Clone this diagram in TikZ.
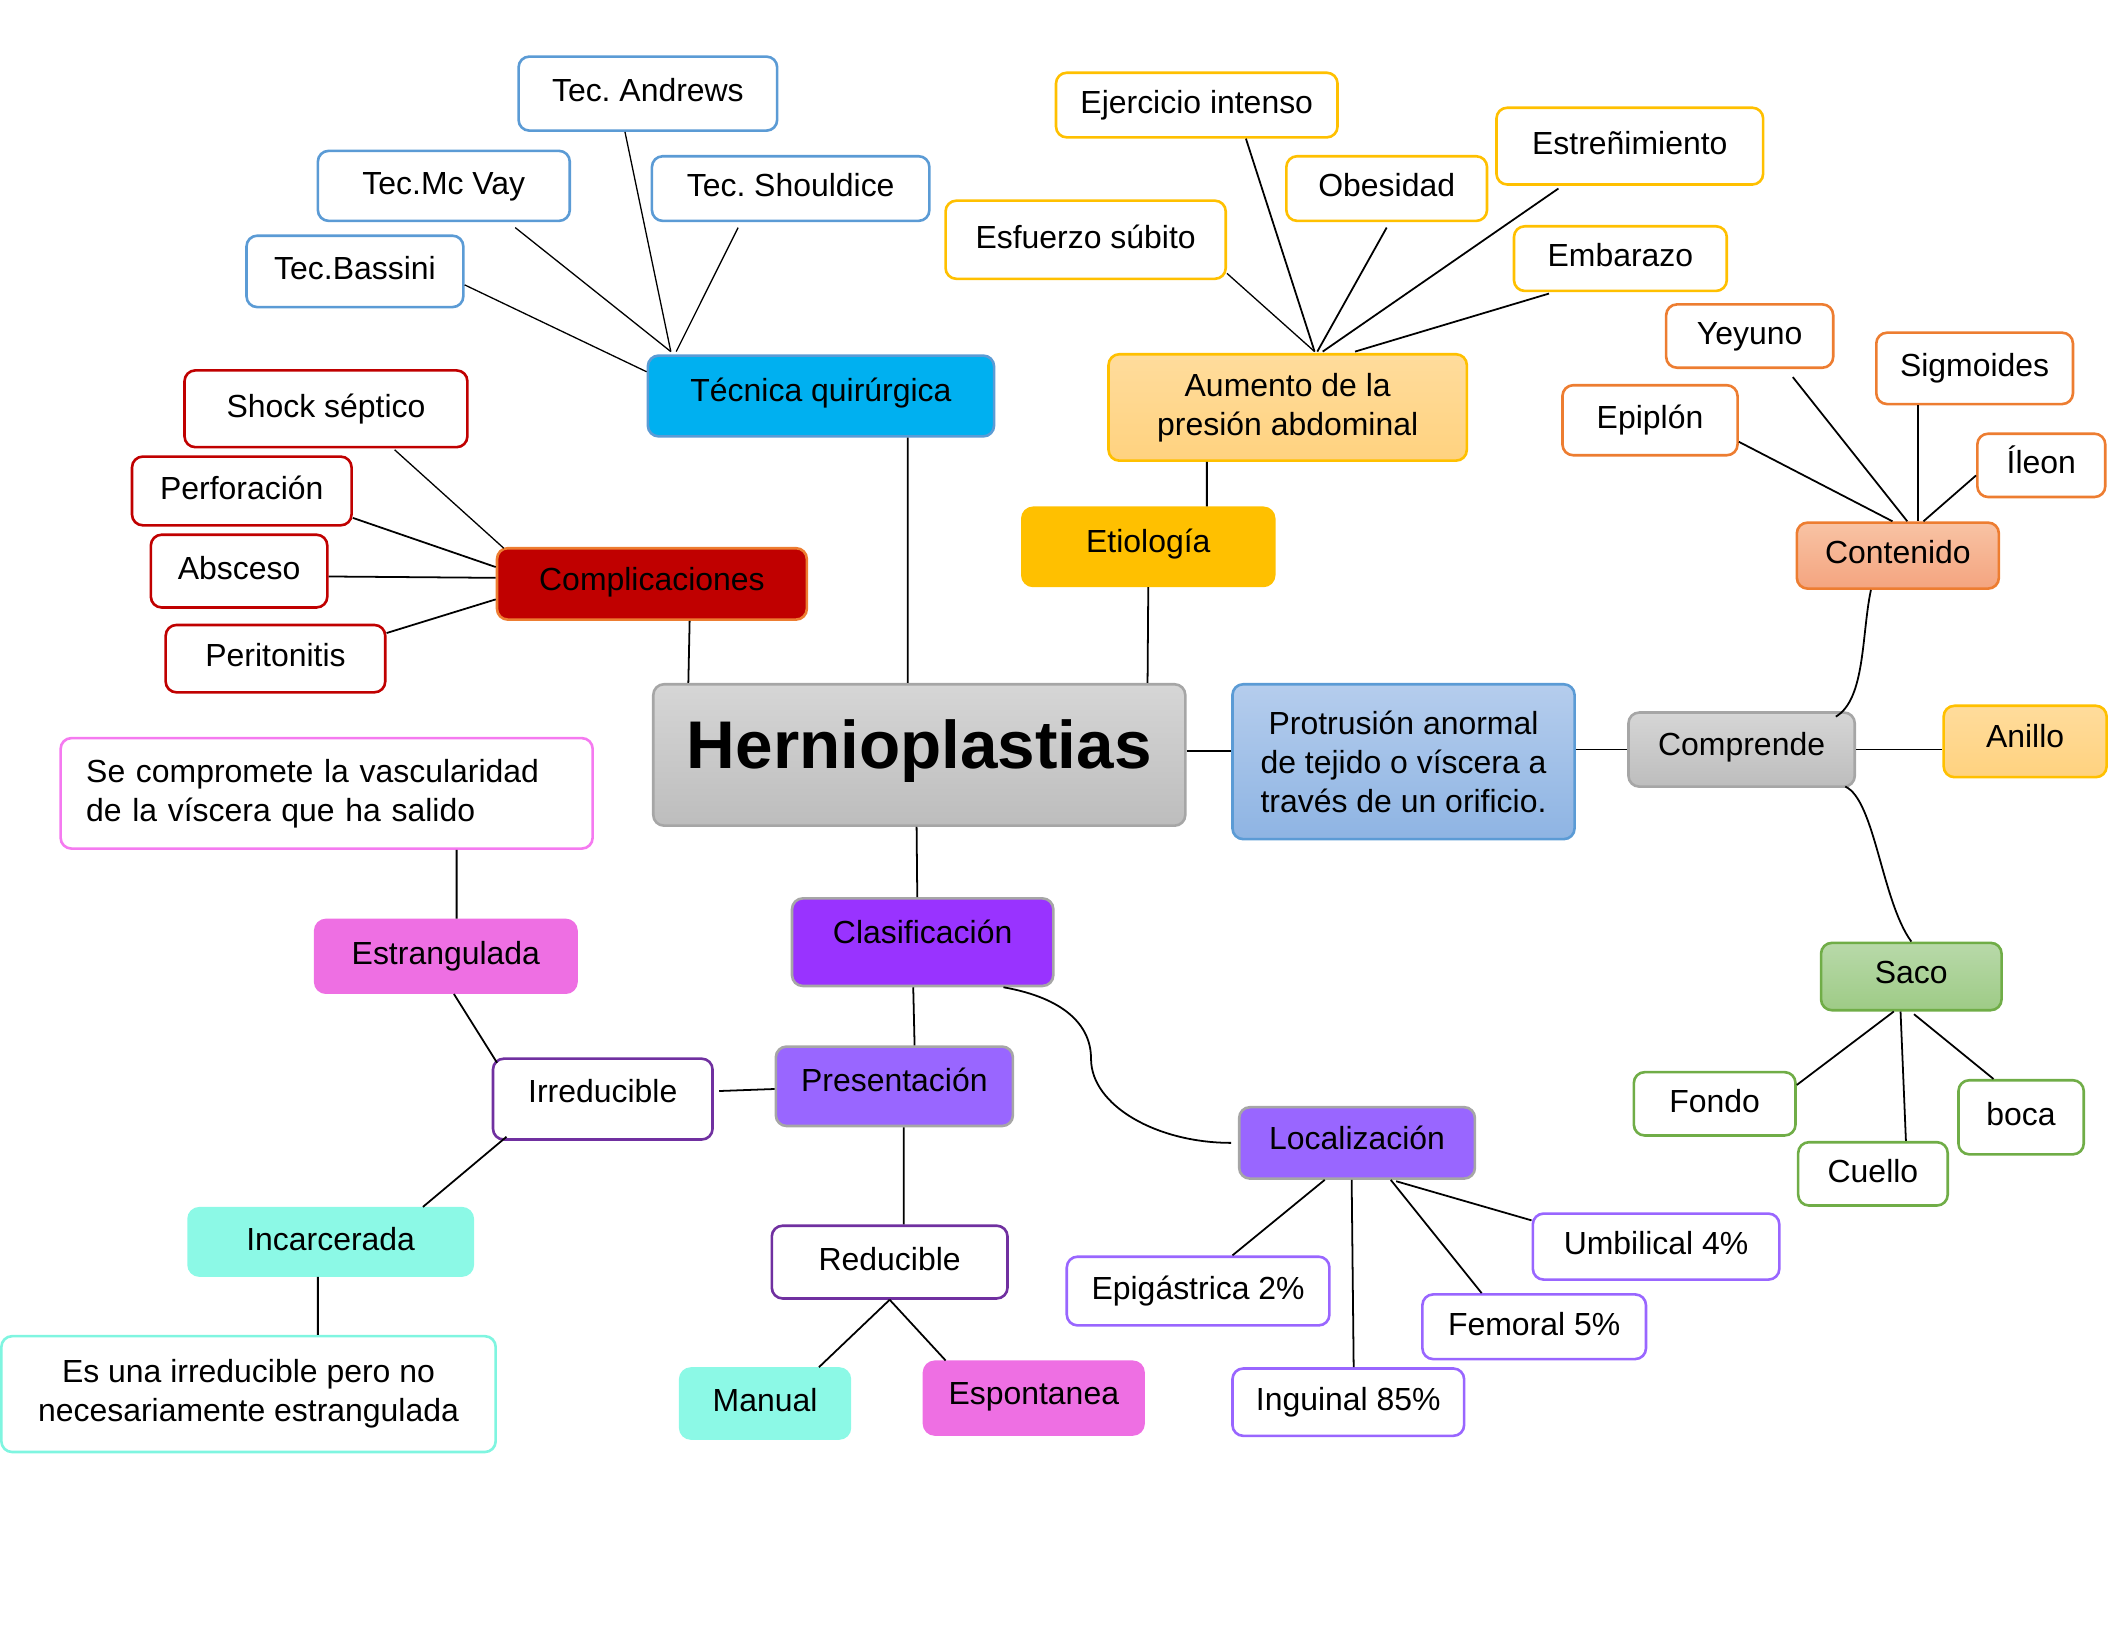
\documentclass[tikz,border=0pt]{standalone}
\usepackage{fontspec}
\setmainfont{Liberation Sans}
\usetikzlibrary{calc}
\frenchspacing

\definecolor{tecblue}{HTML}{5B9BD5}
\definecolor{tqblue}{HTML}{00B0F0}
\definecolor{compred}{HTML}{C00000}
\definecolor{orangeb}{HTML}{ED7D31}
\definecolor{gold}{HTML}{FFC000}
\definecolor{goldt}{HTML}{FFDC9C}
\definecolor{goldd}{HTML}{FFD27F}
\definecolor{grayb}{HTML}{A6A6A6}
\definecolor{grayt}{HTML}{D6D6D6}
\definecolor{grayd}{HTML}{BDBDBD}
\definecolor{prott}{HTML}{B5CDED}
\definecolor{protd}{HTML}{8EB4E3}
\definecolor{salmt}{HTML}{F8C3A4}
\definecolor{salmd}{HTML}{F4A47F}
\definecolor{greenb}{HTML}{70AD47}
\definecolor{greent}{HTML}{B8D9A9}
\definecolor{greend}{HTML}{9ECB86}
\definecolor{clasvio}{HTML}{9933FF}
\definecolor{lila}{HTML}{9966FF}
\definecolor{darkvio}{HTML}{7030A0}
\definecolor{pink}{HTML}{EE6FE3}
\definecolor{pinkb}{HTML}{F57AF0}
\definecolor{aqua}{HTML}{8CF9E6}
\definecolor{aquab}{HTML}{7FF5E0}

\newcommand{\boxfont}{\fontsize{13.5}{16.5}\selectfont}
\newcommand{\titlefont}{\fontsize{28.5}{34}\selectfont\bfseries}

\tikzset{
  mbox/.style={draw,rounded corners=0.16cm,line width=1.1pt,inner sep=0pt,align=center,font=\boxfont},
  tbox/.style={mbox,text height=10pt,text depth=3pt},
  lift/.style={text depth=#1},
  sz/.style 2 args={minimum width=#1*0.02cm,minimum height=#2*0.02cm},
  link/.style={line width=0.75pt},
  thinlink/.style={line width=0.55pt}
}

\begin{document}
\begin{tikzpicture}[x=0.02cm,y=-0.02cm]
  \useasboundingbox (0,0) rectangle (1568,1212);

  \node[mbox,sz={395}{105},draw=grayb,top color=grayt,bottom color=grayd,font=\titlefont,text height=20.8pt,text depth=9.4pt] (hernio) at (682.5,560.5) {Hernioplastias};
  \node[mbox,sz={254}{115},draw=tecblue,top color=prott,bottom color=protd] (protrusion) at (1042,565.5) {Protrusión anormal\\de tejido o víscera a\\través de un orificio.};
  \node[tbox,lift=5pt,sz={168}{55},draw=grayb,top color=grayt,bottom color=grayd] (comprende) at (1293,556.5) {Comprende};
  \node[tbox,lift=5pt,sz={121}{53},draw=gold,top color=goldt,bottom color=goldd] (anillo) at (1503.5,550.5) {Anillo};
  \node[tbox,sz={150}{49},draw=orangeb,top color=salmt,bottom color=salmd] (contenido) at (1409,412.5) {Contenido};
  \node[tbox,lift=4pt,sz={134}{50},draw=greenb,top color=greent,bottom color=greend] (saco) at (1419,725) {Saco};

  % tecnica
  \node[tbox,lift=5pt,sz={257}{60},draw=tecblue,fill=tqblue] (tecnica) at (609.5,294) {Técnica quirúrgica};
  \foreach \n/\x/\y/\w/\h/\t in {andrews/481/69.5/192/55/{Tec. Andrews},
    mcvay/329.5/138/187/52/{Tec.Mc Vay},
    shouldice/587/140/206/48/{Tec. Shouldice},
    bassini/263.5/201.5/161/53/{Tec.Bassini}}
  {
    \node[tbox,sz={\w}{\h},draw=tecblue,fill=white] (\n) at (\x,\y) {\t};
  }

  % complicaciones
  \node[tbox,lift=4pt,sz={230}{53},draw=orangeb,fill=compred] (complic) at (484,433.5) {Complicaciones};
  \foreach \n/\x/\y/\w/\h/\t in {shock/242/303.5/210/57/{Shock séptico},
    perfor/179.5/364.5/163/51/{Perforación},
    absceso/177.5/424/131/54/{Absceso},
    periton/204.5/489/163/50/{Peritonitis}}
  {
    \node[tbox,sz={\w}{\h},draw=compred,fill=white] (\n) at (\x,\y) {\t};
  }

  % etiologia
  \node[tbox,lift=5pt,sz={187}{58},draw=gold,fill=gold] (etiologia) at (852.5,406) {Etiología};
  \node[mbox,sz={266}{79},draw=gold,top color=goldt,bottom color=goldd] (aumento) at (956,302.5) {Aumento de la\\presión abdominal};
  \foreach \n/\x/\y/\w/\h/\t in {ejercicio/888.5/78/209/48/{Ejercicio intenso},
    obesidad/1029.5/140/149/48/{Obesidad},
    estren/1210/108.5/198/57/{Estreñimiento},
    esfuerzo/806/178/208/58/{Esfuerzo súbito},
    embarazo/1203/192/158/48/{Embarazo}}
  {
    \node[tbox,sz={\w}{\h},draw=gold,fill=white] (\n) at (\x,\y) {\t};
  }

  % contenido y saco
  \foreach \n/\x/\y/\w/\h/\t in {yeyuno/1299/249.5/124/47/{Yeyuno},
    sigmoides/1466/273.5/146/53/{Sigmoides},
    epiplon/1225/312/130/52/{Epiplón},
    ileon/1515.5/345.5/95/47/{Íleon}}
  {
    \node[tbox,sz={\w}{\h},draw=orangeb,fill=white] (\n) at (\x,\y) {\t};
  }
  \foreach \n/\x/\y/\w/\h/\t in {fondo/1273/819.5/120/47/{Fondo},
    cuello/1390.5/871.5/111/47/{Cuello},
    boca/1500.5/829.5/93/55/{boca}}
  {
    \node[tbox,sz={\w}{\h},draw=greenb,fill=white] (\n) at (\x,\y) {\t};
  }

  % clasificacion
  \node[tbox,lift=9pt,sz={194}{65},draw=grayb,fill=clasvio] (clasif) at (685,699.5) {Clasificación};
  \node[tbox,lift=6pt,sz={176}{59},draw=grayb,fill=lila] (present) at (664,806.5) {Presentación};
  \node[tbox,lift=4pt,sz={175}{53},draw=grayb,fill=lila] (localiz) at (1007.5,848.5) {Localización};
  \foreach \n/\x/\y/\w/\h/\t in {epigas/889.5/958.5/195/51/{Epigástrica 2\%},
    inguinal/1001/1041/172/50/{Inguinal 85\%},
    femoral/1139/985/166/48/{Femoral 5\%},
    umbilical/1229.5/925.5/183/49/{Umbilical 4\%}}
  {
    \node[tbox,sz={\w}{\h},draw=lila,fill=white] (\n) at (\x,\y) {\t};
  }
  \node[tbox,lift=7pt,sz={163}{60},draw=darkvio,fill=white] (irreduc) at (447.5,816) {Irreducible};
  \node[tbox,sz={175}{54},draw=darkvio,fill=white] (reduc) at (660.5,937) {Reducible};
  \node[tbox,sz={194}{54},draw=pink,fill=pink] (estrang) at (331,710) {Estrangulada};
  \node[mbox,sz={395}{82},draw=pinkb,fill=white,align=left,text width=357*0.02cm,inner xsep=0.38cm] (compromete) at (242.5,589) {Se compromete la vascularidad\\de la víscera que ha salido};
  \node[tbox,sz={211}{50},draw=aqua,fill=aqua] (incarc) at (245.5,922) {Incarcerada};
  \node[mbox,sz={367}{86},draw=aquab,fill=white] (esuna) at (184.5,1035) {Es una irreducible pero no\\necesariamente estrangulada};
  \node[tbox,sz={126}{52},draw=aqua,fill=aqua] (manual) at (568,1042) {Manual};
  \node[tbox,lift=5pt,sz={163}{54},draw=pink,fill=pink] (espont) at (767.5,1038) {Espontanea};

  % conectores
  \coordinate (tq) at ($(tecnica.north west)+(18,-2)$);
  \draw[thinlink] ($(bassini.east)+(0,10)$) -- ($(tecnica.west)+(0,-18)$);
  \draw[thinlink] ($(mcvay.south)+(53,4)$) -- (tq);
  \draw[thinlink] ($(andrews.south)+(-17,0)$) -- (tq);
  \draw[thinlink] ($(shouldice.south)+(-39,4)$) -- ($(tq)+(4,0)$);
  \draw[link] ($(tecnica.south)+(64.5,0)$) -- ($(hernio.north)+(-8.5,0)$);

  \draw[thinlink] ($(shock.south)+(51,1)$) -- ($(complic.north west)+(6,1)$);
  \draw[link] ($(perfor.east)+(0,20)$) -- ($(complic.west)+(0,-12.5)$);
  \draw[link] ($(absceso.east)+(0,4)$) -- ($(complic.west)+(0,-4.5)$);
  \draw[link] ($(periton.east)+(0,-19)$) -- ($(complic.west)+(0,11.5)$);
  \draw[link] ($(complic.south)+(28,0)$) -- ($(hernio.north west)+(27,0)$);

  \coordinate (ap) at ($(aumento.north)+(20,-1)$);
  \draw[thinlink] ($(esfuerzo.east)+(0,25)$) -- (ap);
  \draw[link] ($(ejercicio.south)+(36.5,0)$) -- (ap);
  \draw[link] ($(obesidad.south)+(0,4)$) -- ($(ap)+(2,0)$);
  \draw[link] ($(estren.south)+(-53,2)$) -- ($(ap)+(6,0)$);
  \draw[link] ($(embarazo.south)+(-53,1)$) -- ($(ap)+(30,0)$);
  \draw[link] ($(aumento.south)+(-60,0)$) -- ($(etiologia.north)+(43.5,0)$);
  \draw[link] (etiologia.south) -- ($(hernio.north east)+(-29,0)$);

  \draw[link] ($(hernio.east)+(0,-3)$) -- ($(hernio.east -| protrusion.west)+(0,-3)$);
  \draw[link] (comprende.west -| protrusion.east) -- (comprende.west);
  \draw[link] (comprende.east) -- (comprende.east -| anillo.west);

  \coordinate (cp) at ($(contenido.north)+(11,0)$);
  \draw[link] ($(epiplon.east)+(0,16)$) -- ($(cp)+(-15,0)$);
  \draw[link] ($(yeyuno.south)+(32,6)$) -- ($(cp)+(-4,0)$);
  \draw[link] ($(sigmoides.south)+(-42,0)$) -- ($(cp)+(4,0)$);
  \draw[link] ($(ileon.west)+(0,7.5)$) -- ($(cp)+(8,0)$);
  \draw[link] ($(contenido.south)+(-20,0)$) .. controls +(-7,33) and +(22,-13) .. ($(comprende.north east)+(-15,4)$);
  \draw[link] ($(comprende.south east)+(-8,-1)$) .. controls +(22,10) and +(-22,-30) .. (saco.north);

  \coordinate (sp) at ($(saco.south)+(-8,0)$);
  \draw[link] ($(fondo.east)+(0,-14)$) -- ($(sp)+(-5,0)$);
  \draw[link] ($(cuello.north)+(24.5,0)$) -- (sp);
  \draw[link] ($(boca.north)+(-20.5,0)$) -- ($(sp)+(10,2)$);

  \draw[link] ($(hernio.south)+(-2,0)$) -- ($(clasif.north)+(-4,0)$);
  \draw[link] ($(clasif.south)+(-7,0)$) -- ($(present.north)+(15,0)$);
  \draw[link] ($(clasif.south)+(60,0)$) .. controls +(45,8) and +(0,-25) .. ++(65,53) .. controls +(0,35) and +(-55,0) .. ($(localiz.west)+(-5,0)$);

  \draw[link] ($(localiz.south)+(-24,0)$) -- ($(epigas.north)+(25.5,0)$);
  \draw[link] ($(localiz.south)+(-4,0)$) -- ($(inguinal.north)+(4,0)$);
  \draw[link] ($(localiz.south)+(25,0)$) -- ($(femoral.north)+(-39,0)$);
  \draw[link] ($(localiz.south)+(29,1)$) -- ($(umbilical.north west)+(0,6)$);

  \draw[link] ($(present.west)+(0,2)$) -- ($(irreduc.east)+(4,-6)$);
  \draw[link] ($(present.south)+(7,0)$) -- ($(reduc.north)+(10.5,0)$);
  \draw[link] (reduc.south) -- ($(manual.north)+(40,0)$);
  \draw[link] (reduc.south) -- ($(espont.north west)+(17,0)$);
  \draw[link] ($(irreduc.north west)+(4,4)$) -- ($(estrang.south)+(6,0)$);
  \draw[link] ($(estrang.north)+(8,0)$) -- ($(compromete.south)+(96.5,0)$);
  \draw[link] ($(irreduc.south west)+(11,-3)$) -- ($(incarc.north)+(68.5,0)$);
  \draw[link] ($(incarc.south)+(-9.5,0)$) -- ($(esuna.north)+(51.5,0)$);
\end{tikzpicture}
\end{document}
